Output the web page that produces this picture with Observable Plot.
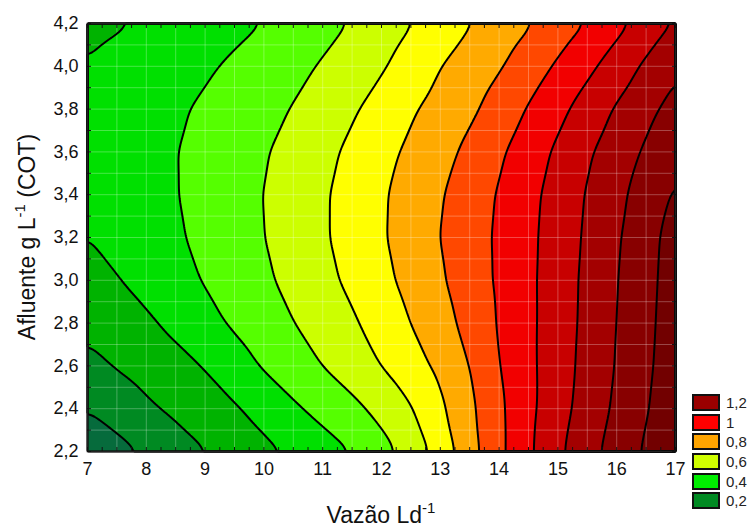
<!DOCTYPE html>
<html><head><meta charset="utf-8">
<script src="https://cdn.jsdelivr.net/npm/d3@7"></script>
<script src="https://cdn.jsdelivr.net/npm/@observablehq/plot@0.6"></script>
<style>
body{margin:0;background:#fff;font-family:"Liberation Sans",Arial,sans-serif;}
#wrap{position:relative;width:751px;height:528px;overflow:hidden;}
#legend{position:absolute;left:692px;top:393px;}
.item{display:flex;align-items:center;height:19.6px;}
.sw{width:24px;height:13px;border:2px solid #111;margin-right:6px;box-sizing:content-box;}
.lab{font-size:15px;color:#222;line-height:15px;}
</style></head><body><div id="wrap"></div>
<script>
// Grid: Vazão (x) columns and Afluente (y) rows
const vazao = [7,7.5,8,8.5,9,9.5,10,10.5,11,11.5,12,12.5,13,13.5,14,14.5,15,15.5,16,16.5,17];
const afluente = [4.2,4.0,3.8,3.6,3.4,3.2,3.0,2.8,2.6,2.4,2.2];
const z_4_2 = [0.276,0.291,0.310,0.333,0.355,0.378,0.401,0.435,0.470,0.505,0.551,0.596,0.646,0.695,0.743,0.791,0.847,0.904,0.970,1.039,1.110];
const z_4_0 = [0.305,0.326,0.347,0.368,0.388,0.414,0.444,0.475,0.508,0.549,0.590,0.642,0.698,0.744,0.791,0.850,0.913,0.977,1.046,1.117,1.190];
const z_3_8 = [0.321,0.343,0.365,0.388,0.413,0.443,0.473,0.504,0.546,0.588,0.636,0.688,0.735,0.781,0.840,0.907,0.973,1.042,1.110,1.173,1.235];
const z_3_6 = [0.326,0.350,0.373,0.397,0.428,0.460,0.492,0.532,0.574,0.620,0.670,0.719,0.768,0.822,0.885,0.950,1.017,1.086,1.150,1.213,1.280];
const z_3_4 = [0.319,0.345,0.371,0.396,0.430,0.465,0.501,0.544,0.588,0.637,0.688,0.740,0.792,0.849,0.908,0.972,1.038,1.107,1.175,1.244,1.315];
const z_3_2 = [0.299,0.329,0.359,0.388,0.423,0.461,0.498,0.543,0.588,0.638,0.690,0.744,0.801,0.857,0.915,0.978,1.045,1.115,1.188,1.265,1.340];
const z_3_0 = [0.269,0.295,0.330,0.368,0.406,0.445,0.484,0.527,0.573,0.621,0.674,0.730,0.788,0.851,0.914,0.980,1.050,1.122,1.196,1.271,1.345];
const z_2_8 = [0.226,0.256,0.285,0.323,0.369,0.414,0.456,0.498,0.542,0.587,0.641,0.701,0.763,0.831,0.908,0.979,1.051,1.125,1.201,1.276,1.350];
const z_2_6 = [0.171,0.206,0.238,0.271,0.305,0.358,0.409,0.455,0.501,0.550,0.601,0.659,0.723,0.801,0.898,0.978,1.055,1.131,1.206,1.282,1.355];
const z_2_4 = [0.104,0.143,0.183,0.220,0.255,0.290,0.335,0.385,0.431,0.475,0.529,0.594,0.682,0.778,0.881,0.976,1.062,1.142,1.218,1.293,1.365];
const z_2_2 = [0.025,0.068,0.111,0.154,0.197,0.236,0.275,0.315,0.357,0.401,0.465,0.540,0.639,0.761,0.877,0.983,1.081,1.165,1.241,1.314,1.385];

const levels = [0,0.1,0.2,0.3,0.4,0.5,0.6,0.7,0.8,0.9,1.0,1.1,1.2,1.3];
const bandColors = ["#066b3c","#008a22","#00b300","#00e000","#55ff00","#ccff00","#ffff00","#ffaa00","#ff4800","#f20000","#c80000","#a30000","#880000","#720000"];

const xTicks = [7,8,9,10,11,12,13,14,15,16,17];
const yTicks = [2.2,2.4,2.6,2.8,3.0,3.2,3.4,3.6,3.8,4.0,4.2];
const legendLabels = ["1,2","1","0,8","0,6","0,4","0,2"];
const legendColors = ["#9a0000","#ff0000","#ffa500","#d0ff00","#00ee00","#008a22"];

const rows = [z_4_2,z_4_0,z_3_8,z_3_6,z_3_4,z_3_2,z_3_0,z_2_8,z_2_6,z_2_4,z_2_2];
const table = rows.flatMap((r, i) => r.map((z, j) => ({x: vazao[j], y: afluente[i], z})));

const xMinor = d3.range(7, 17.001, 0.25);
const yMinor = d3.range(2.2, 4.2001, 0.1);
const xGrid = d3.range(7.5, 17, 0.5);
const yGrid = d3.range(2.3, 4.2, 0.1);

const common = {x: "x", y: "y", thresholds: levels, interpolate: "barycentric", blur: 3, x1: 7, x2: 17, y1: 2.2, y2: 4.2};
const fmt = d => d3.format(".1f")(d).replace(".", ",");

const chart = Plot.plot({
  width: 751, height: 528,
  marginLeft: 87, marginRight: 76, marginTop: 23, marginBottom: 77,
  x: {domain: [7, 17]},
  y: {domain: [2.2, 4.2]},
  color: {type: "ordinal", domain: levels, range: bandColors},
  style: {fontFamily: "'Liberation Sans', Arial, sans-serif", fontSize: "18px", color: "#111", background: "white"},
  marks: [
    Plot.contour(table, {...common, fill: "z"}),
    Plot.gridX(xGrid, {stroke: "white", strokeOpacity: 0.28}),
    Plot.gridY(yGrid, {stroke: "white", strokeOpacity: 0.28}),
    Plot.contour(table, {...common, value: "z", fill: "none", stroke: "black", strokeWidth: 2}),
    Plot.frame({stroke: "#222", strokeWidth: 1.6}),
    Plot.axisX(xTicks, {anchor: "bottom", tickSize: 0, tickPadding: 11, fontSize: 18, label: null, tickFormat: d => String(d)}),
    Plot.axisX(xMinor, {anchor: "bottom", tickSize: -4, tickFormat: () => "", label: null}),
    Plot.axisX(xMinor, {anchor: "top", tickSize: -4, tickFormat: () => "", label: null}),
    Plot.axisY(yTicks, {anchor: "left", tickSize: 0, tickPadding: 9, fontSize: 18, label: null, tickFormat: fmt}),
    Plot.axisY(yMinor, {anchor: "left", tickSize: -4, tickFormat: () => "", label: null}),
    Plot.axisY(yMinor, {anchor: "right", tickSize: -4, tickFormat: () => "", label: null})
  ]
});
document.getElementById("wrap").appendChild(chart);

const svg = d3.select(chart);
// Axis titles with superscripts
const yt = svg.append("text")
  .attr("transform", "translate(35,237) rotate(-90)")
  .attr("text-anchor", "middle")
  .attr("font-size", 23).attr("fill", "#111");
yt.append("tspan").text("Afluente g L");
yt.append("tspan").attr("dy", -10).attr("font-size", 15).text("-1");
yt.append("tspan").attr("dy", 10).text(" (COT)");

const xt = svg.append("text")
  .attr("x", 381).attr("y", 523)
  .attr("text-anchor", "middle")
  .attr("font-size", 23).attr("fill", "#111");
xt.append("tspan").text("Vazão Ld");
xt.append("tspan").attr("dy", -10).attr("font-size", 15).text("-1");

// Legend
const legend = document.createElement("div");
legend.id = "legend";
legendLabels.forEach((lab, i) => {
  const item = document.createElement("div"); item.className = "item";
  const sw = document.createElement("div"); sw.className = "sw"; sw.style.background = legendColors[i];
  const t = document.createElement("span"); t.className = "lab"; t.textContent = lab;
  item.appendChild(sw); item.appendChild(t); legend.appendChild(item);
});
document.getElementById("wrap").appendChild(legend);
</script></body></html>
